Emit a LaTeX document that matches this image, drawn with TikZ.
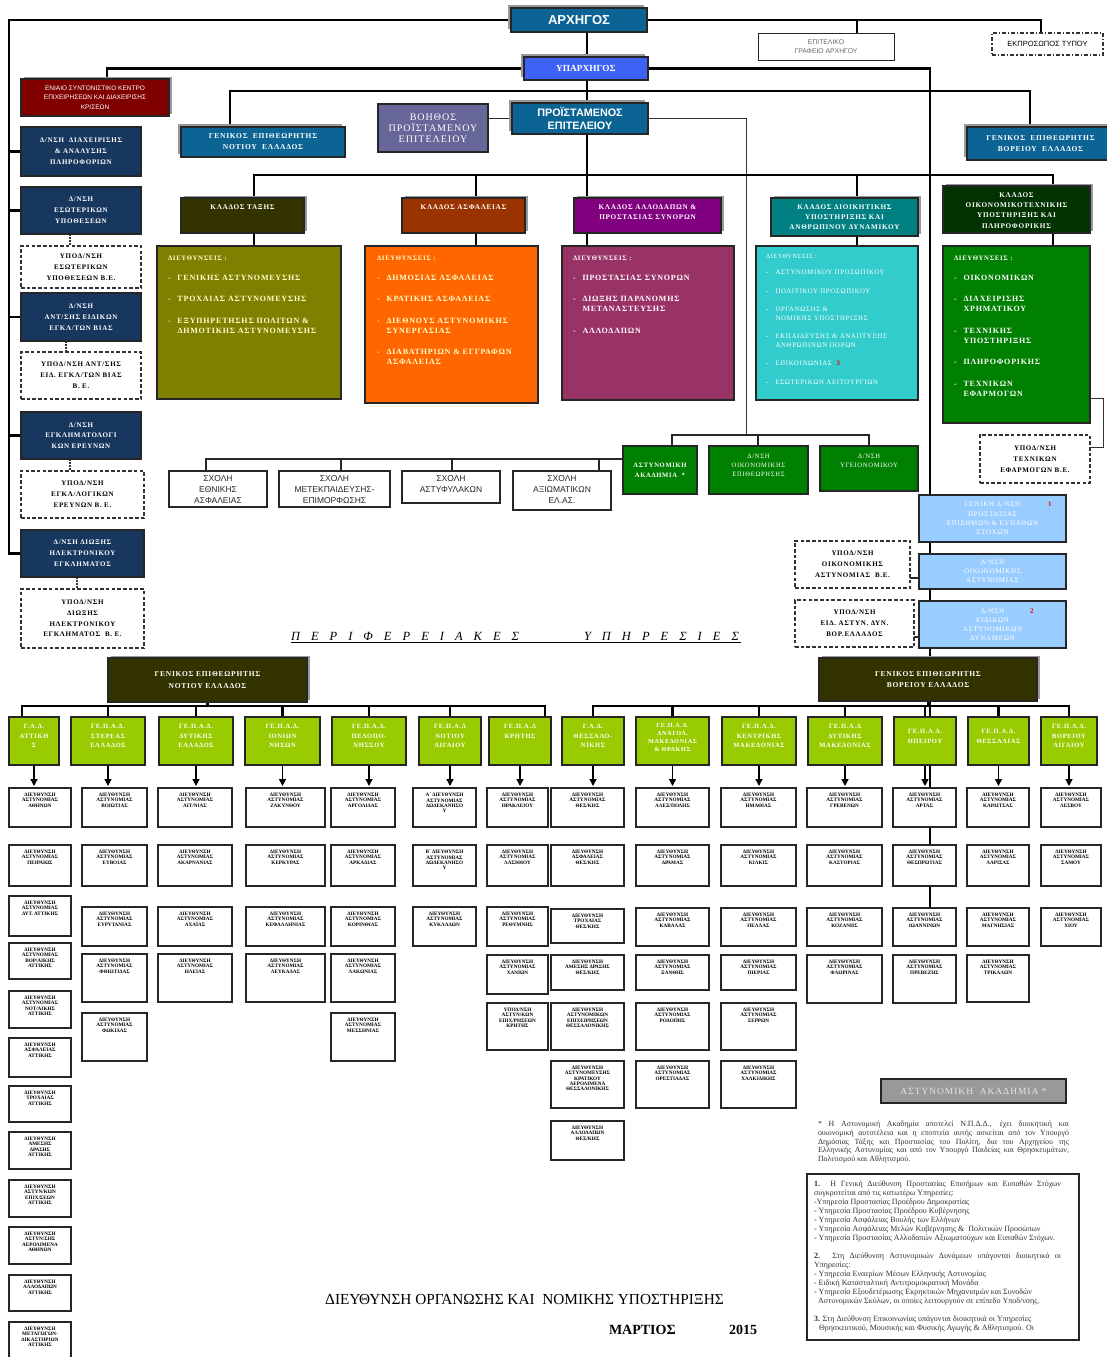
\documentclass[tikz,border=0pt]{standalone}
\usepackage{fontspec}
\setmainfont{Liberation Serif}
\newfontfamily\sansf{Liberation Sans}
\newfontfamily\lsf[LetterSpace=10]{Liberation Serif}
\usetikzlibrary{shadows,arrows.meta}
\pgfdeclarelayer{bgfill}
\pgfdeclarelayer{bg}
\pgfsetlayers{bgfill,bg,main}
\definecolor{cTop}{HTML}{0B6494}
\definecolor{cYp}{HTML}{3D62F5}
\definecolor{cRed}{HTML}{800000}
\definecolor{cNavy}{HTML}{17375E}
\definecolor{cVoith}{HTML}{666699}
\definecolor{cH1}{HTML}{333300}
\definecolor{cL1}{HTML}{808000}
\definecolor{cH2}{HTML}{993300}
\definecolor{cL2}{HTML}{FF6600}
\definecolor{cH3}{HTML}{800080}
\definecolor{cL3}{HTML}{993366}
\definecolor{cH4}{HTML}{008080}
\definecolor{cL4}{HTML}{33CCCC}
\definecolor{cH5}{HTML}{003300}
\definecolor{cL5}{HTML}{008000}
\definecolor{cLB}{HTML}{99CCFF}
\definecolor{cGR}{HTML}{99CC00}
\definecolor{cCream}{HTML}{FFFFCC}
\newcommand{\bxt}[8]{\node[#2,anchor=north west] (#1) at (#3,#4) {\parbox[c][\dimexpr#6pt-#4pt\relax][t]{\dimexpr#5pt-#3pt\relax}{\centering\vspace*{#7pt}#8\par}};}
\newcommand{\bxc}[7]{\node[#2,anchor=north west] (#1) at (#3,#4) {\parbox[c][\dimexpr#6pt-#4pt\relax][c]{\dimexpr#5pt-#3pt\relax}{\centering #7\par}};}
\newcommand{\lbx}[9]{\node[#2,anchor=north west] (#1) at (#3,#4) {\parbox[c][\dimexpr#6pt-#4pt\relax][t]{\dimexpr#5pt-#3pt\relax}{\raggedright\leftskip=#7pt\vspace*{#8pt}#9\par}};}
\newcommand{\itm}[1]{\makebox[9.5pt][l]{-}#1}
\newcommand{\cont}{\hspace*{9.5pt}}
\newcommand{\wb}[6]{\bxt{#1}{wbox}{#2}{#3}{#4}{#5}{5}{#6}}
\newcommand{\dast}[1]{ΔΙΕΥΘΥΝΣΗ\\ΑΣΤΥΝΟΜΙΑΣ\\#1}
\tikzset{
 every node/.style={inner sep=0pt,outer sep=0pt},
 bxs/.style={draw=black!85,line width=1.3pt},
 shUL/.style={general shadow={fill=black!40,shadow xshift=-3pt,shadow yshift=3pt}},
 shUR/.style={general shadow={fill=black!40,shadow xshift=2.5pt,shadow yshift=2.5pt}},
 shW/.style={general shadow={fill=black!30,shadow xshift=1pt,shadow yshift=-1pt}},
 topblue/.style={bxs,fill=cTop,text=white,shUL},
 navy/.style={bxs,fill=cNavy,text=white,font=\lsf\bfseries\fontsize{7}{10.8}\selectfont},
 dbox/.style={draw=black!80,line width=1.3pt,dash pattern=on 3.5pt off 2.2pt,fill=white,text=black,font=\lsf\bfseries\fontsize{7}{10.8}\selectfont},
 head/.style={bxs,text=white,shUR,font=\lsf\bfseries\fontsize{7.2}{10.3}\selectfont},
 lst/.style={bxs,line width=1.2pt,font=\lsf\bfseries\fontsize{8}{10}\selectfont},
 lst4/.style={bxs,line width=1.2pt,font=\lsf\fontsize{6.8}{9}\selectfont},
 smg/.style={bxs,fill=cL5,text=white},
 sch/.style={bxs,line width=1.2pt,fill=white,text=black!85,font=\sansf\fontsize{8.5}{11}\selectfont},
 lb/.style={bxs,fill=cLB,text=white,font=\lsf\fontsize{7}{9.2}\selectfont},
 gl/.style={bxs,fill=cH1,text=white,shUR,font=\lsf\bfseries\fontsize{7.5}{11.5}\selectfont},
 gr/.style={bxs,fill=cGR,text=white,font=\lsf\bfseries\fontsize{6.5}{9.3}\selectfont},
 wbox/.style={bxs,fill=white,text=black,shW,font=\bfseries\fontsize{5.2}{5.3}\selectfont},
 cn/.style={line width=2.6pt,draw=black},
 cnm/.style={line width=1.6pt,draw=black!85},
 cnt/.style={line width=1pt,draw=black!80},
 dotc/.style={line width=1.1pt,draw=black!80,dash pattern=on 1.5pt off 1.5pt},
 arr/.style={line width=1.3pt,draw=black,-{Triangle[length=7pt,width=7pt]}}
}
\begin{document}
\begin{tikzpicture}[x=1pt,y=-1pt]
\useasboundingbox (0,0) rectangle (1107,1357);
\begin{pgfonlayer}{bgfill}
\fill[white] (0,0) rectangle (1107,1357);
\end{pgfonlayer}
% ---------- top ----------
\bxc{arch}{topblue,font=\sansf\bfseries\fontsize{13}{14}\selectfont}{511}{8}{647}{32}{ΑΡΧΗΓΟΣ}
\bxc{epit}{bxs,line width=1pt,fill=white,text=black!60,font=\sansf\fontsize{6.8}{9}\selectfont}{758}{33}{894}{60}{ΕΠΙΤΕΛΙΚΟ\\ΓΡΑΦΕΙΟ ΑΡΧΗΓΟΥ}
\bxc{ekpr}{draw=black!80,line width=1.3pt,dash pattern=on 4pt off 2pt on 1.2pt off 2pt,fill=white,font=\sansf\fontsize{7.5}{9}\selectfont}{992}{33}{1103}{55}{ΕΚΠΡΟΣΩΠΟΣ ΤΥΠΟΥ}
\bxc{yp}{bxs,fill=cYp,text=white,shUL,font=\bfseries\fontsize{9.3}{10}\selectfont}{524}{57}{648}{80}{ΥΠΑΡΧΗΓΟΣ}
\bxc{pr}{topblue,font=\sansf\bfseries\fontsize{10.8}{12.5}\selectfont}{512}{103}{648}{134}{ΠΡΟΪΣΤΑΜΕΝΟΣ\\ΕΠΙΤΕΛΕΙΟΥ}
\bxc{voith}{bxs,fill=cVoith,text=white,font=\lsf\fontsize{10}{11}\selectfont}{378}{104}{488}{152}{ΒΟΗΘΟΣ\\ΠΡΟΪΣΤΑΜΕΝΟΥ\\ΕΠΙΤΕΛΕΙΟΥ}
\bxc{en}{bxs,fill=cRed,text=white,shUR,font=\sansf\fontsize{6.5}{9.4}\selectfont}{21}{79}{169}{116}{ΕΝΙΑΙΟ ΣΥΝΤΟΝΙΣΤΙΚΟ ΚΕΝΤΡΟ\\ΕΠΙΧΕΙΡΗΣΕΩΝ ΚΑΙ ΔΙΑΧΕΙΡΙΣΗΣ\\ΚΡΙΣΕΩΝ}
\bxc{gnT}{topblue,font=\lsf\bfseries\fontsize{7.5}{11}\selectfont}{181}{127}{345}{157}{ΓΕΝΙΚΟΣ \ ΕΠΙΘΕΩΡΗΤΗΣ\\ΝΟΤΙΟΥ \ ΕΛΛΑΔΟΣ}
\bxc{gbT}{topblue,font=\lsf\bfseries\fontsize{7.5}{11}\selectfont}{967}{127}{1114}{160}{ΓΕΝΙΚΟΣ \ ΕΠΙΘΕΩΡΗΤΗΣ\\ΒΟΡΕΙΟΥ \ ΕΛΛΑΔΟΣ}
% ---------- left column ----------
\bxc{ld1}{navy}{21}{127}{141}{176}{Δ/ΝΣΗ \ ΔΙΑΧΕΙΡΙΣΗΣ\\\& ΑΝΑΛΥΣΗΣ\\ΠΛΗΡΟΦΟΡΙΩΝ}
\bxc{ld2}{navy}{21}{187}{141}{234}{Δ/ΝΣΗ\\ΕΣΩΤΕΡΙΚΩΝ\\ΥΠΟΘΕΣΕΩΝ}
\bxc{lu2}{dbox}{21}{246}{141}{288}{ΥΠΟΔ/ΝΣΗ\\ΕΣΩΤΕΡΙΚΩΝ\\ΥΠΟΘΕΣΕΩΝ Β.Ε.}
\bxc{ld3}{navy}{21}{293}{141}{341}{Δ/ΝΣΗ\\ΑΝΤ/ΣΗΣ ΕΙΔΙΚΩΝ\\ΕΓΚΛ/ΤΩΝ ΒΙΑΣ}
\bxc{lu3}{dbox}{21}{352}{141}{399}{ΥΠΟΔ/ΝΣΗ ΑΝΤ/ΣΗΣ\\ΕΙΔ. ΕΓΚΛ/ΤΩΝ ΒΙΑΣ\\Β. Ε.}
\bxc{ld4}{navy}{21}{412}{141}{459}{Δ/ΝΣΗ\\ΕΓΚΛΗΜΑΤΟΛΟΓΙ\\ΚΩΝ ΕΡΕΥΝΩΝ}
\bxc{lu4}{dbox}{21}{471}{144}{518}{ΥΠΟΔ/ΝΣΗ\\ΕΓΚΛ/ΛΟΓΙΚΩΝ\\ΕΡΕΥΝΩΝ Β. Ε.}
\bxc{ld5}{navy}{21}{530}{144}{577}{Δ/ΝΣΗ ΔΙΩΞΗΣ\\ΗΛΕΚΤΡΟΝΙΚΟΥ\\ΕΓΚΛΗΜΑΤΟΣ}
\bxc{lu5}{dbox}{21}{589}{144}{648}{ΥΠΟΔ/ΝΣΗ\\ΔΙΩΞΗΣ\\ΗΛΕΚΤΡΟΝΙΚΟΥ\\ΕΓΚΛΗΜΑΤΟΣ \ Β. Ε.}
% ---------- divisions ----------
\bxt{h1}{head,fill=cH1}{181}{198}{304}{233}{6.5}{ΚΛΑΔΟΣ ΤΑΞΗΣ}
\bxt{h2}{head,fill=cH2}{402}{198}{525}{233}{6.5}{ΚΛΑΔΟΣ ΑΣΦΑΛΕΙΑΣ}
\bxt{h3}{head,fill=cH3}{574}{198}{721}{233}{6.5}{ΚΛΑΔΟΣ ΑΛΛΟΔΑΠΩΝ \&\\ΠΡΟΣΤΑΣΙΑΣ ΣΥΝΟΡΩΝ}
\bxt{h4}{head,fill=cH4}{771}{198}{918}{236}{6.5}{ΚΛΑΔΟΣ ΔΙΟΙΚΗΤΙΚΗΣ\\ΥΠΟΣΤΗΡΙΞΗΣ ΚΑΙ\\ΑΝΘΡΩΠΙΝΟΥ ΔΥΝΑΜΙΚΟΥ}
\bxt{h5}{head,fill=cH5}{943}{186}{1090}{233}{6.5}{ΚΛΑΔΟΣ\\ΟΙΚΟΝΟΜΙΚΟΤΕΧΝΙΚΗΣ\\ΥΠΟΣΤΗΡΙΞΗΣ ΚΑΙ\\ΠΛΗΡΟΦΟΡΙΚΗΣ}
\lbx{l1}{lst,fill=cL1,text=cCream}{157}{246}{341}{399}{11}{9.5}{{\fontsize{6.8}{10}\selectfont ΔΙΕΥΘΥΝΣΕΙΣ :}\\[10pt]\itm{ΓΕΝΙΚΗΣ ΑΣΤΥΝΟΜΕΥΣΗΣ}\\[11pt]\itm{ΤΡΟΧΑΙΑΣ ΑΣΤΥΝΟΜΕΥΣΗΣ}\\[12pt]\itm{ΕΞΥΠΗΡΕΤΗΣΗΣ ΠΟΛΙΤΩΝ \&}\\\cont ΔΗΜΟΤΙΚΗΣ ΑΣΤΥΝΟΜΕΥΣΗΣ}
\lbx{l2}{lst,fill=cL2,text=cCream}{365}{246}{538}{403}{12}{9.5}{{\fontsize{6.8}{10}\selectfont ΔΙΕΥΘΥΝΣΕΙΣ :}\\[10pt]\itm{ΔΗΜΟΣΙΑΣ ΑΣΦΑΛΕΙΑΣ}\\[11pt]\itm{ΚΡΑΤΙΚΗΣ ΑΣΦΑΛΕΙΑΣ}\\[12pt]\itm{ΔΙΕΘΝΟΥΣ ΑΣΤΥΝΟΜΙΚΗΣ}\\\cont ΣΥΝΕΡΓΑΣΙΑΣ\\[11pt]\itm{ΔΙΑΒΑΤΗΡΙΩΝ \& ΕΓΓΡΑΦΩΝ}\\\cont ΑΣΦΑΛΕΙΑΣ}
\lbx{l3}{lst,fill=cL3,text=white}{562}{246}{734}{400}{11}{9.5}{{\fontsize{6.8}{10}\selectfont ΔΙΕΥΘΥΝΣΕΙΣ :}\\[10pt]\itm{ΠΡΟΣΤΑΣΙΑΣ ΣΥΝΟΡΩΝ}\\[11pt]\itm{ΔΙΩΞΗΣ ΠΑΡΑΝΟΜΗΣ}\\\cont ΜΕΤΑΝΑΣΤΕΥΣΗΣ\\[12pt]\itm{ΑΛΛΟΔΑΠΩΝ}}
\lbx{l4}{lst4,fill=cL4,text=white}{756}{246}{918}{400}{10}{8.8}{{\fontsize{6.3}{9}\selectfont ΔΙΕΥΘΥΝΣΕΙΣ :}\\[7pt]\itm{ΑΣΤΥΝΟΜΙΚΟΥ ΠΡΟΣΩΠΙΚΟΥ}\\[10pt]\itm{ΠΟΛΙΤΙΚΟΥ ΠΡΟΣΩΠΙΚΟΥ}\\[9pt]\itm{ΟΡΓΑΝΩΣΗΣ \&}\\\cont ΝΟΜΙΚΗΣ ΥΠΟΣΤΗΡΙΞΗΣ\\[9pt]\itm{ΕΚΠΑΙΔΕΥΣΗΣ \& ΑΝΑΠΤΥΞΗΣ}\\\cont ΑΝΘΡΩΠΙΝΩΝ ΠΟΡΩΝ\\[9pt]\itm{ΕΠΙΚΟΙΝΩΝΙΑΣ \ \textcolor{red}{\bfseries 3}}\\[10pt]\itm{ΕΣΩΤΕΡΙΚΩΝ ΛΕΙΤΟΥΡΓΙΩΝ}}
\lbx{l5}{lst,fill=cL5,text=white}{943}{246}{1090}{423}{11}{9.5}{{\fontsize{6.8}{10}\selectfont ΔΙΕΥΘΥΝΣΕΙΣ :}\\[10pt]\itm{ΟΙΚΟΝΟΜΙΚΩΝ}\\[11pt]\itm{ΔΙΑΧΕΙΡΙΣΗΣ}\\\cont ΧΡΗΜΑΤΙΚΟΥ\\[12pt]\itm{ΤΕΧΝΙΚΗΣ}\\\cont ΥΠΟΣΤΗΡΙΞΗΣ\\[11pt]\itm{ΠΛΗΡΟΦΟΡΙΚΗΣ}\\[12pt]\itm{ΤΕΧΝΙΚΩΝ}\\\cont ΕΦΑΡΜΟΓΩΝ}
\bxc{uTe}{dbox}{980}{435}{1090}{483}{ΥΠΟΔ/ΝΣΗ\\ΤΕΧΝΙΚΩΝ\\ΕΦΑΡΜΟΓΩΝ Β.Ε.}
% ---------- academy, schools ----------
\bxc{ak}{smg,font=\lsf\bfseries\fontsize{6.6}{10}\selectfont}{623}{446}{697}{494}{ΑΣΤΥΝΟΜΙΚΗ\\ΑΚΑΔΗΜΙΑ \ *}
\bxt{oe}{smg,font=\lsf\fontsize{6.6}{9}\selectfont}{709}{446}{808}{494}{8.5}{Δ/ΝΣΗ\\ΟΙΚΟΝΟΜΙΚΗΣ\\ΕΠΙΘΕΩΡΗΣΗΣ}
\bxt{yg}{smg,font=\lsf\fontsize{6.6}{9}\selectfont}{820}{446}{918}{491}{8.5}{Δ/ΝΣΗ\\ΥΓΕΙΟΝΟΜΙΚΟΥ}
\bxt{s1}{sch}{169}{471}{267}{507}{5}{ΣΧΟΛΗ\\ΕΘΝΙΚΗΣ\\ΑΣΦΑΛΕΙΑΣ}
\bxt{s2}{sch}{279}{471}{390}{507}{5}{ΣΧΟΛΗ\\ΜΕΤΕΚΠΑΙΔΕΥΣΗΣ-\\ΕΠΙΜΟΡΦΩΣΗΣ}
\bxt{s3}{sch}{402}{471}{500}{503}{5}{ΣΧΟΛΗ\\ΑΣΤΥΦΥΛΑΚΩΝ}
\bxt{s4}{sch}{513}{471}{611}{510}{5}{ΣΧΟΛΗ\\ΑΞΙΩΜΑΤΙΚΩΝ\\ΕΛ.ΑΣ.}
% ---------- light blue ----------
\bxc{b1}{lb}{919}{495}{1066}{542}{ΓΕΝΙΚΗ Δ/ΝΣΗ\rlap{\hspace{28pt}\textcolor{red}{\bfseries 1}}\\ΠΡΟΣΤΑΣΙΑΣ\\ΕΠΙΣΗΜΩΝ \& ΕΥΠΑΘΩΝ\\ΣΤΟΧΩΝ}
\bxc{b2}{lb}{919}{554}{1066}{589}{Δ/ΝΣΗ\\ΟΙΚΟΝΟΜΙΚΗΣ\\ΑΣΤΥΝΟΜΙΑΣ}
\bxc{b3}{lb}{919}{601}{1066}{648}{Δ/ΝΣΗ\rlap{\hspace{26pt}\textcolor{red}{\bfseries 2}}\\ΕΙΔΙΚΩΝ\\ΑΣΤΥΝΟΜΙΚΩΝ\\ΔΥΝΑΜΕΩΝ}
\bxc{u1}{dbox}{795}{541}{910}{588}{ΥΠΟΔ/ΝΣΗ\\ΟΙΚΟΝΟΜΙΚΗΣ\\ΑΣΤΥΝΟΜΙΑΣ \ Β.Ε.}
\bxc{u2}{dbox}{795}{600}{914}{647}{ΥΠΟΔ/ΝΣΗ\\ΕΙΔ. ΑΣΤΥΝ. ΔΥΝ.\\ΒΟΡ.ΕΛΛΑΔΟΣ}
% ---------- regional heading ----------
\node[anchor=base west,font=\itshape\fontsize{12.5}{13}\selectfont] (per1) at (291,640) {\spaceskip=11pt\relax Π Ε Ρ Ι Φ Ε Ρ Ε Ι Α Κ Ε Σ};
\node[anchor=base west,font=\itshape\fontsize{12.5}{13}\selectfont] (per2) at (584,640) {\spaceskip=11pt\relax Υ Π Η Ρ Ε Σ Ι Ε Σ};
\coordinate (ulA) at (291,642.5); \coordinate (ulB) at (741,642.5);
\draw[line width=1pt] (ulA) -- (ulB);
% ---------- regional ----------
\bxc{gnL}{gl}{108}{658}{307}{702}{ΓΕΝΙΚΟΣ ΕΠΙΘΕΩΡΗΤΗΣ\\ΝΟΤΙΟΥ ΕΛΛΑΔΟΣ}
\bxc{gbL}{gl}{819}{658}{1037}{701}{ΓΕΝΙΚΟΣ ΕΠΙΘΕΩΡΗΤΗΣ\\ΒΟΡΕΙΟΥ ΕΛΛΑΔΟΣ}
\bxt{g1}{gr}{9}{717}{59}{765}{7.5}{Γ.Α.Δ.\\ΑΤΤΙΚΗ\\Σ}
\bxt{g2}{gr}{71}{717}{145}{765}{7.5}{ΓΕ.Π.Α.Δ.\\ΣΤΕΡΕΑΣ\\ΕΛΛΑΔΟΣ}
\bxt{g3}{gr}{159}{717}{233}{765}{7.5}{ΓΕ.Π.Α.Δ.\\ΔΥΤΙΚΗΣ\\ΕΛΛΑΔΟΣ}
\bxt{g4}{gr}{245}{717}{320}{765}{7.5}{ΓΕ.Π.Α.Δ.\\ΙΟΝΙΩΝ\\ΝΗΣΩΝ}
\bxt{g5}{gr}{332}{717}{406}{765}{7.5}{ΓΕ.Π.Α.Δ.\\ΠΕΛΟΠΟ-\\ΝΗΣΣΟΥ}
\bxt{g6}{gr}{419}{717}{481}{765}{7.5}{ΓΕ.Π.Α.Δ\\ΝΟΤΙΟΥ\\ΑΙΓΑΙΟΥ}
\bxt{g7}{gr}{489}{717}{551}{765}{7.5}{ΓΕ.Π.Α.Δ\\ΚΡΗΤΗΣ}
\bxt{g8}{gr}{562}{717}{624}{765}{7.5}{Γ.Α.Δ.\\ΘΕΣΣΑΛΟ-\\ΝΙΚΗΣ}
\bxt{g9}{gr,font=\lsf\bfseries\fontsize{6.2}{8}\selectfont}{636}{717}{709}{765}{6.5}{ΓΕ.Π.Α.Δ.\\ΑΝΑΤΟΛ.\\ΜΑΚΕΔΟΝΙΑΣ\\\& ΘΡΑΚΗΣ}
\bxt{g10}{gr}{722}{717}{796}{765}{7.5}{ΓΕ.Π.Α.Δ.\\ΚΕΝΤΡΙΚΗΣ\\ΜΑΚΕΔΟΝΙΑΣ}
\bxt{g11}{gr}{808}{717}{882}{765}{7.5}{ΓΕ.Π.Α.Δ\\ΔΥΤΙΚΗΣ\\ΜΑΚΕΔΟΝΙΑΣ}
\bxt{g12}{gr}{894}{717}{956}{765}{12.5}{ΓΕ.Π.Α.Δ.\\ΗΠΕΙΡΟΥ}
\bxt{g13}{gr}{968}{717}{1029}{765}{12.5}{ΓΕ.Π.Α.Δ.\\ΘΕΣΣΑΛΙΑΣ}
\bxt{g14}{gr}{1041}{717}{1097}{765}{7.5}{ΓΕ.Π.Α.Δ.\\ΒΟΡΕΙΟΥ\\ΑΙΓΑΙΟΥ}
% ---- south directorates ----
\wb{a1}{9}{788}{71}{827}{\dast{ΑΘΗΝΩΝ}}
\wb{a2}{9}{845}{71}{886}{\dast{ΠΕΙΡΑΙΩΣ}}
\wb{a3}{9}{896}{71}{936}{\dast{ΔΥΤ. ΑΤΤΙΚΗΣ}}
\wb{a4}{9}{943}{71}{979}{\dast{ΒΟΡ/ΑΙΚΗΣ\\ΑΤΤΙΚΗΣ}}
\wb{a5}{9}{991}{71}{1028}{\dast{ΝΟΤ/ΑΙΚΗΣ\\ΑΤΤΙΚΗΣ}}
\wb{a6}{9}{1038}{71}{1077}{ΔΙΕΥΘΥΝΣΗ\\ΑΣΦΑΛΕΙΑΣ\\ΑΤΤΙΚΗΣ}
\wb{a7}{9}{1086}{71}{1122}{ΔΙΕΥΘΥΝΣΗ\\ΤΡΟΧΑΙΑΣ\\ΑΤΤΙΚΗΣ}
\wb{a8}{9}{1132}{71}{1169}{ΔΙΕΥΘΥΝΣΗ\\ΑΜΕΣΗΣ\\ΔΡΑΣΗΣ\\ΑΤΤΙΚΗΣ}
\wb{a9}{9}{1180}{71}{1217}{ΔΙΕΥΘΥΝΣΗ\\ΑΣΤΥΝ/ΚΩΝ\\ΕΠΙΧ/ΣΕΩΝ\\ΑΤΤΙΚΗΣ}
\wb{a10}{9}{1227}{71}{1264}{ΔΙΕΥΘΥΝΣΗ\\ΑΣΤΥΝ/ΣΗΣ\\ΑΕΡΟΛΙΜΕΝΑ\\ΑΘΗΝΩΝ}
\wb{a11}{9}{1275}{71}{1311}{ΔΙΕΥΘΥΝΣΗ\\ΑΛΛΟΔΑΠΩΝ\\ΑΤΤΙΚΗΣ}
\wb{a12}{9}{1322}{71}{1362}{ΔΙΕΥΘΥΝΣΗ\\ΜΕΤΑΓΩΓΩΝ-\\ΔΙΚΑΣΤΗΡΙΩΝ\\ΑΤΤΙΚΗΣ}
\wb{b1}{82}{788}{147}{827}{\dast{ΒΟΙΩΤΙΑΣ}}
\wb{b2}{82}{845}{147}{886}{\dast{ΕΥΒΟΙΑΣ}}
\wb{b3}{82}{907}{147}{946}{\dast{ΕΥΡΥΤΑΝΙΑΣ}}
\wb{b4}{82}{954}{147}{1002}{\dast{ΦΘΙΩΤΙΔΑΣ}}
\wb{b5}{82}{1013}{147}{1061}{\dast{ΦΩΚΙΔΑΣ}}
\wb{c1}{158}{788}{232}{827}{\dast{ΑΙΤ/ΝΙΑΣ}}
\wb{c2}{158}{845}{232}{886}{\dast{ΑΚΑΡΝΑΝΙΑΣ}}
\wb{c3}{158}{907}{232}{946}{\dast{ΑΧΑΪΑΣ}}
\wb{c4}{158}{954}{232}{1002}{\dast{ΗΛΕΙΑΣ}}
\wb{d1}{246}{788}{325}{827}{\dast{ΖΑΚΥΝΘΟΥ}}
\wb{d2}{246}{845}{325}{886}{\dast{ΚΕΡΚΥΡΑΣ}}
\wb{d3}{246}{907}{325}{946}{\dast{ΚΕΦΑΛΛΗΝΙΑΣ}}
\wb{d4}{246}{954}{325}{1002}{\dast{ΛΕΥΚΑΔΑΣ}}
\wb{e1}{331}{788}{395}{827}{\dast{ΑΡΓΟΛΙΔΑΣ}}
\wb{e2}{331}{845}{395}{886}{\dast{ΑΡΚΑΔΙΑΣ}}
\wb{e3}{331}{907}{395}{946}{\dast{ΚΟΡΙΝΘΙΑΣ}}
\wb{e4}{331}{954}{395}{1002}{\dast{ΛΑΚΩΝΙΑΣ}}
\wb{e5}{331}{1013}{395}{1061}{\dast{ΜΕΣΣΗΝΙΑΣ}}
\wb{f1}{413}{788}{476}{827}{Α΄ ΔΙΕΥΘΥΝΣΗ\\ΑΣΤΥΝΟΜΙΑΣ\\ΔΩΔΕΚΑΝΗΣΟ\\Υ}
\wb{f2}{413}{845}{476}{886}{Β΄ ΔΙΕΥΘΥΝΣΗ\\ΑΣΤΥΝΟΜΙΑΣ\\ΔΩΔΕΚΑΝΗΣΟ\\Υ}
\wb{f3}{413}{907}{476}{946}{\dast{ΚΥΚΛΑΔΩΝ}}
\wb{k1}{487}{788}{548}{827}{\dast{ΗΡΑΚΛΕΙΟΥ}}
\wb{k2}{487}{845}{548}{886}{\dast{ΛΑΣΙΘΙΟΥ}}
\wb{k3}{487}{907}{548}{946}{\dast{ΡΕΘΥΜΝΗΣ}}
\wb{k4}{487}{955}{548}{994}{\dast{ΧΑΝΙΩΝ}}
\wb{k5}{487}{1003}{548}{1050}{ΥΠΟΔ/ΝΣΗ\\ΑΣΤΥΝ/ΚΩΝ\\ΕΠΙΧ/ΡΗΣΕΩΝ\\ΚΡΗΤΗΣ}
% ---- north directorates ----
\wb{t1}{551}{788}{624}{827}{\dast{ΘΕΣ/ΚΗΣ}}
\wb{t2}{551}{845}{624}{886}{ΔΙΕΥΘΥΝΣΗ\\ΑΣΦΑΛΕΙΑΣ\\ΘΕΣ/ΚΗΣ}
\wb{t3}{551}{909}{624}{943}{ΔΙΕΥΘΥΝΣΗ\\ΤΡΟΧΑΙΑΣ\\ΘΕΣ/ΚΗΣ}
\wb{t4}{551}{955}{624}{990}{ΔΙΕΥΘΥΝΣΗ\\ΑΜΕΣΗΣ ΔΡΑΣΗΣ\\ΘΕΣ/ΚΗΣ}
\wb{t5}{551}{1003}{624}{1050}{ΔΙΕΥΘΥΝΣΗ\\ΑΣΤΥΝΟΜΙΚΩΝ\\ΕΠΙΧΕΙΡΗΣΕΩΝ\\ΘΕΣΣΑΛΟΝΙΚΗΣ}
\wb{t6}{551}{1061}{624}{1108}{ΔΙΕΥΘΥΝΣΗ\\ΑΣΤΥΝΟΜΕΥΣΗΣ\\ΚΡΑΤΙΚΟΥ\\ΑΕΡΟΛΙΜΕΝΑ\\ΘΕΣΣΑΛΟΝΙΚΗΣ}
\wb{t7}{551}{1121}{624}{1160}{ΔΙΕΥΘΥΝΣΗ\\ΑΛΛΟΔΑΠΩΝ\\ΘΕΣ/ΚΗΣ}
\wb{i1}{636}{788}{709}{827}{\dast{ΑΛΕΞ/ΠΟΛΗΣ}}
\wb{i2}{636}{845}{709}{886}{\dast{ΔΡΑΜΑΣ}}
\wb{i3}{636}{908}{709}{946}{\dast{ΚΑΒΑΛΑΣ}}
\wb{i4}{636}{955}{709}{990}{\dast{ΞΑΝΘΗΣ}}
\wb{i5}{636}{1003}{709}{1050}{\dast{ΡΟΔΟΠΗΣ}}
\wb{i6}{636}{1061}{709}{1108}{\dast{ΟΡΕΣΤΙΑΔΑΣ}}
\wb{j1}{721}{788}{796}{827}{\dast{ΗΜΑΘΙΑΣ}}
\wb{j2}{721}{845}{796}{886}{\dast{ΚΙΛΚΙΣ}}
\wb{j3}{721}{908}{796}{946}{\dast{ΠΕΛΛΑΣ}}
\wb{j4}{721}{955}{796}{990}{\dast{ΠΙΕΡΙΑΣ}}
\wb{j5}{721}{1003}{796}{1050}{\dast{ΣΕΡΡΩΝ}}
\wb{j6}{721}{1061}{796}{1108}{\dast{ΧΑΛΚΙΔΙΚΗΣ}}
\wb{m1}{807}{788}{882}{827}{\dast{ΓΡΕΒΕΝΩΝ}}
\wb{m2}{807}{845}{882}{886}{\dast{ΚΑΣΤΟΡΙΑΣ}}
\wb{m3}{807}{908}{882}{946}{\dast{ΚΟΖΑΝΗΣ}}
\wb{m4}{807}{955}{882}{1003}{\dast{ΦΛΩΡΙΝΑΣ}}
\wb{p1}{893}{788}{956}{827}{\dast{ΑΡΤΑΣ}}
\wb{p2}{893}{845}{956}{886}{\dast{ΘΕΣΠΡΩΤΙΑΣ}}
\wb{p3}{893}{908}{956}{946}{\dast{ΙΩΑΝΝΙΝΩΝ}}
\wb{p4}{893}{955}{956}{1003}{\dast{ΠΡΕΒΕΖΗΣ}}
\wb{q1}{967}{788}{1029}{827}{\dast{ΚΑΡΔΙΤΣΑΣ}}
\wb{q2}{967}{845}{1029}{886}{\dast{ΛΑΡΙΣΑΣ}}
\wb{q3}{967}{908}{1029}{946}{\dast{ΜΑΓΝΗΣΙΑΣ}}
\wb{q4}{967}{955}{1029}{1002}{\dast{ΤΡΙΚΑΛΩΝ}}
\wb{n1}{1041}{788}{1101}{827}{\dast{ΛΕΣΒΟΥ}}
\wb{n2}{1041}{845}{1101}{886}{\dast{ΣΑΜΟΥ}}
\wb{n3}{1041}{908}{1101}{946}{\dast{ΧΙΟΥ}}
% ---------- bottom right ----------
\bxc{akg}{bxs,line width=1.6pt,fill=black!40,text=white!90!black,font=\lsf\fontsize{9.5}{10}\selectfont}{881}{1079}{1066}{1103}{ΑΣΤΥΝΟΜΙΚΗ \ ΑΚΑΔΗΜΙΑ *}
\node[anchor=north west,text=black!80,font=\fontsize{7.9}{8.8}\selectfont] (fn) at (818,1121) {\parbox{251pt}{\noindent
\makebox[251pt][s]{* Η Αστυνομική Ακαδημία αποτελεί Ν.Π.Δ.Δ., έχει διοικητική και}\\
\makebox[251pt][s]{οικονομική αυτοτέλεια και η εποπτεία αυτής ασκείται από τον Υπουργό}\\
\makebox[251pt][s]{Δημόσιας Τάξης και Προστασίας του Πολίτη, δια του Αρχηγείου της}\\
\makebox[251pt][s]{Ελληνικής Αστυνομίας και από τον Υπουργό Παιδείας και Θρησκευμάτων,}\\
Πολιτισμού και Αθλητισμού.}};
\node[draw=black!85,line width=1.5pt,anchor=north west,text=black!80,font=\fontsize{8}{9}\selectfont] (nb) at (807,1174) {\parbox[c][166pt][t]{272pt}{\leftskip=7pt\vspace*{7pt}\noindent
\makebox[247pt][s]{\textbf{1.} Η Γενική Διεύθυνση Προστασίας Επισήμων και Ευπαθών Στόχων}\\
συγκροτείται από τις κατωτέρω Υπηρεσίες:\\
-Υπηρεσία Προστασίας Προέδρου Δημοκρατίας\\
- Υπηρεσία Προστασίας Προέδρου Κυβέρνησης\\
- Υπηρεσία Ασφάλειας Βουλής των Ελλήνων\\
- Υπηρεσία Ασφάλειας Μελών Κυβέρνησης \& \ Πολιτικών Προσώπων\\
- Υπηρεσία Προστασίας Αλλοδαπών Αξιωματούχων και Ευπαθών Στόχων.\\[9pt]
\makebox[247pt][s]{\textbf{2.} Στη Διεύθυνση Αστυνομικών Δυνάμεων υπάγονται διοικητικά οι}\\
Υπηρεσίες:\\
- Υπηρεσία Εναερίων Μέσων Ελληνικής Αστυνομίας\\
- Ειδική Κατασταλτική Αντιτρομοκρατική Μονάδα\\
- Υπηρεσία Εξουδετέρωσης Εκρηκτικών Μηχανισμών και Συνοδών\\
\hspace*{4pt}Αστυνομικών Σκύλων, οι οποίες λειτουργούν σε επίπεδο Υποδ/νσης.\\[9pt]
\textbf{3.} Στη Διεύθυνση Επικοινωνίας υπάγονται διοικητικά οι Υπηρεσίες\\
\hspace*{5pt}Θρησκευτικού, Μουσικής και Φυσικής Αγωγής \& Αθλητισμού. Οι}};
\node[font=\fontsize{15.3}{16}\selectfont] (ttl) at (524.5,1299) {ΔΙΕΥΘΥΝΣΗ ΟΡΓΑΝΩΣΗΣ ΚΑΙ \ ΝΟΜΙΚΗΣ ΥΠΟΣΤΗΡΙΞΗΣ};
\node[anchor=west,font=\bfseries\fontsize{14}{15}\selectfont] (mon) at (609,1330) {ΜΑΡΤΙΟΣ};
\node[anchor=west,font=\bfseries\fontsize{14}{15}\selectfont] (yr) at (729,1330) {2015};
% ---------- connectors ----------
\begin{pgfonlayer}{bg}
\coordinate (spine) at (9,0);
\draw[cn] (arch.west) -- (arch.west -| spine) -- (spine |- ld5.west) -- (ld5.west);
\foreach \n in {ld1,ld2,ld3,ld4} \draw[cn] (spine |- \n.west) -- (\n.west);
\coordinate (epd) at (857,0); \coordinate (ekd) at (1041,0);
\draw[cn] (arch.east) -- (arch.east -| ekd) -- (ekd |- ekpr.north);
\draw[cn] (arch.east -| epd) -- (epd |- epit.north);
\coordinate (mx) at (587,0);
\draw[cn] (mx |- arch.south) -- (mx |- h3.north);
\draw[cn] (mx |- h3.south) -- (mx |- l3.north);
\coordinate (enx) at (107,0);
\draw[cn] (yp.west) -- (yp.west -| enx) -- (enx |- en.north);
\coordinate (bxx) at (930,0);
\draw[cn] (yp.east) -- (yp.east -| bxx) -- (bxx |- b3.north);
\coordinate (g91a) at (230,91); \coordinate (g91b) at (1030,91);
\draw[cn] (g91a |- gnT.north) -- (g91a) -- (g91b) -- (g91b |- gbT.north);
\draw[cnm] (pr.west) -- (pr.west -| voith.east);
\coordinate (acx) at (746,0); \coordinate (acy) at (0,435);
\draw[cnt] (pr.east) -- (pr.east -| acx) -- (acx |- acy);
\coordinate (ac1) at (672,435); \coordinate (ac2) at (758,435); \coordinate (ac3) at (869,435);
\draw[cnm] (ac1 |- ak.north) -- (ac1) -- (ac3) -- (ac3 |- yg.north);
\draw[cnm] (ac2) -- (ac2 |- oe.north);
\coordinate (sy) at (0,459);
\coordinate (sx1) at (206,0); \coordinate (sx2) at (341,0); \coordinate (sx3) at (452,0); \coordinate (sx4) at (599,0);
\draw[cnm] (ak.west |- sy) -- (sx1 |- sy) -- (sx1 |- s1.north);
\draw[cnm] (sx2 |- sy) -- (sx2 |- s2.north);
\draw[cnm] (sx3 |- sy) -- (sx3 |- s3.north);
\draw[cnm] (sx4 |- sy) -- (sx4 |- s4.north);
\coordinate (dy) at (0,175);
\coordinate (dx1) at (254,0); \coordinate (dx2) at (476,0); \coordinate (dx4) at (857,0); \coordinate (dx5) at (1053,0);
\draw[cn] (dx1 |- h1.north) -- (dx1 |- dy) -- (dx5 |- dy) -- (dx5 |- h5.north);
\draw[cn] (dx2 |- dy) -- (dx2 |- h2.north);
\draw[cn] (dx4 |- dy) -- (dx4 |- h4.north);
\draw[cn] (dx1 |- h1.south) -- (dx1 |- l1.north);
\draw[cn] (dx2 |- h2.south) -- (dx2 |- l2.north);
\draw[cn] (dx4 |- h4.south) -- (dx4 |- l4.north);
\draw[cn] (dx5 |- h5.south) -- (dx5 |- l5.north);
\coordinate (tq1) at (1103,398); \coordinate (tq2) at (1103,447);
\draw[cnt] (l5.east |- tq1) -- (tq1) -- (tq2) -- (uTe.east |- tq2);
\coordinate (rr1a) at (910,578); \coordinate (rr1b) at (919,578);
\coordinate (rr2a) at (914,637); \coordinate (rr2b) at (919,637);
\draw[cnm] (rr1a) -- (rr1b);
\draw[cnm] (rr2a) -- (rr2b);
\coordinate (dq1) at (70,0); \coordinate (dq2) at (66,0); \coordinate (dq4) at (77,0);
\draw[dotc] (dq1 |- ld2.south) -- (dq1 |- lu2.north);
\draw[dotc] (dq2 |- ld3.south) -- (dq2 |- lu3.north);
\draw[dotc] (dq1 |- ld4.south) -- (dq1 |- lu4.north);
\draw[dotc] (dq4 |- ld5.south) -- (dq4 |- lu5.north);
\coordinate (sy2) at (0,706);
\coordinate (sL) at (22,706); \coordinate (sR) at (545,706);
\draw[cn] (gnL.south) -- (gnL.south |- sy2);
\draw[cn] (sL |- g1.north) -- (sL) -- (sR) -- (sR |- g7.north);
\foreach \g in {g2,g3,g4,g5,g6} \draw[cn] (\g.north |- sy2) -- (\g.north);
\draw[cn] (gbL.south) -- (gbL.south |- sy2);
\draw[cn] (g8.north) -- (g8.north |- sy2) -- (g14.north |- sy2) -- (g14.north);
\foreach \g in {g9,g10,g11,g12,g13} \draw[cn] (\g.north |- sy2) -- (\g.north);
\coordinate (ar) at (0,786);
\foreach \g in {g1,g2,g3,g4,g5,g6,g7,g8,g9,g10,g11,g12,g13,g14} \draw[arr] (\g.south) -- (\g.south |- ar);
\end{pgfonlayer}
\end{tikzpicture}
\end{document}
